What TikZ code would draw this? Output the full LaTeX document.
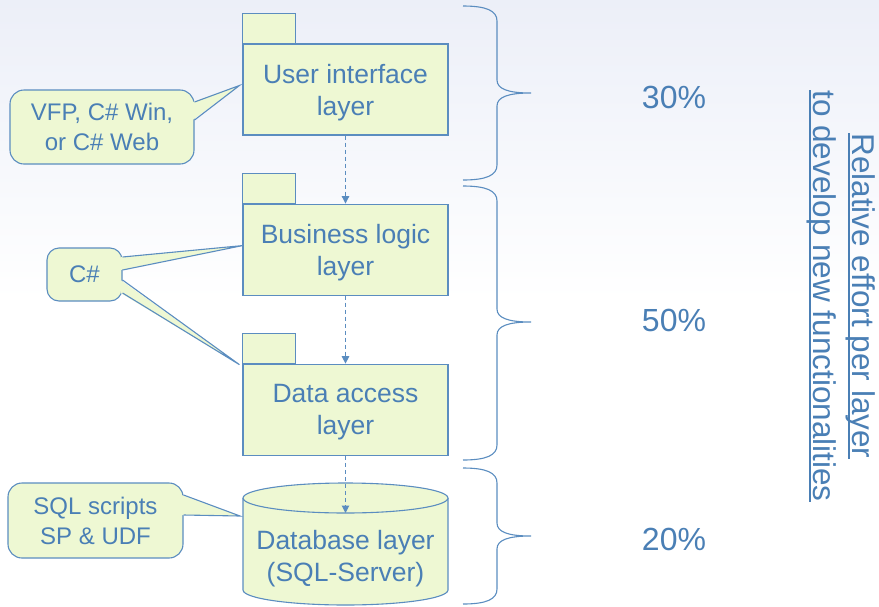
\documentclass[tikz,border=0pt]{standalone}
\usepackage{fontspec}
\setmainfont{Liberation Sans}
\usepackage{tikz}
\usetikzlibrary{calc, positioning, arrows.meta}
\definecolor{layerBlue}{HTML}{4A7FB5}
\definecolor{layerLine}{HTML}{5B8DC0}
\definecolor{layerFill}{HTML}{EEF8D3}
\definecolor{slideTop}{HTML}{ECEFF8}

\tikzset{
    pkg/.style={draw=layerLine, fill=layerFill, line width=1.1pt, minimum width=205pt,
        minimum height=91pt, inner sep=0pt, align=center, text=layerBlue, text depth=0pt,
        font=\fontsize{26.5}{32}\selectfont},
    pkgtab/.style={draw=layerLine, fill=layerFill, line width=1.1pt},
    note/.style={draw=layerLine, fill=layerFill, line width=1.1pt, rounded corners=14pt,
        inner sep=0pt, align=center, text=layerBlue, font=\fontsize{24}{30}\selectfont},
    dep/.style={draw=layerLine, line width=1pt, dash pattern=on 4pt off 3pt,
        -{Triangle[length=7.5pt,width=7.5pt]}},
    share/.style={text=layerBlue, font=\fontsize{32}{38}\selectfont},
}

% pointer of a note: note, offsets of the two base points, tip
\newcommand\notetip[4]{%
    \fill[layerFill] ($(#1.east)+(-2,#2)$) -- (#4) -- ($(#1.east)+(-2,#3)$) -- cycle;
    \draw[layerLine, line width=1.1pt] ($(#1.east)+(0,#2)$) -- (#4) -- ($(#1.east)+(0,#3)$);
}
% curly brace on the right: top, tip, bottom
\newcommand\effortbrace[3]{%
    \draw[layerLine, line width=1.1pt] (463,#1) .. controls (487,#1) and (497,#1+5) .. (497,#1+15)
        -- (497,#2-13) .. controls (497,#2-4) and (508,#2) .. (531,#2)
        .. controls (508,#2) and (497,#2+4) .. (497,#2+13)
        -- (497,#3-15) .. controls (497,#3-5) and (487,#3) .. (463,#3);
}
\newcommand\effortul[1]{\setbox0=\hbox{#1}\rlap{\rule[-4pt]{\wd0}{1.4pt}}\box0}

\begin{document}
\begin{tikzpicture}[x=1pt, y=-1pt]

    \useasboundingbox (0,0) rectangle (879,606);
    \fill[top color=slideTop, bottom color=white] (0,0) rectangle (879,300);

    % layers
    \node[pkg] (ui) at (345.5,89.5) {User interface\\layer};
    \node[pkg, below=68pt of ui] (bl) {Business logic\\layer};
    \node[pkg, below=68pt of bl] (da) {Data access\\layer};
    \foreach \p in {ui, bl, da}
        \draw[pkgtab] (\p.north west) rectangle ++(53,-30);

    \filldraw[pkgtab] (243,498) -- (243,590)
        arc[start angle=180, end angle=360, x radius=102.5pt, y radius=15pt] -- (448,498);
    \filldraw[pkgtab] (345.5,498) ellipse [x radius=102.5pt, y radius=15pt];
    \node[text=layerBlue, align=center, font=\fontsize{26.5}{32}\selectfont] (db) at (345.5,559)
        {Database layer\\(SQL-Server)};
    \coordinate (dbtop) at (345.5,513);

    \draw[dep] (ui.south) -- (bl.north);
    \draw[dep] (bl.south) -- (da.north);
    \draw[dep] (da.south) -- (dbtop);

    % notes
    \node[note, minimum width=184pt, minimum height=74pt] (vfp) at (102,127)
        {VFP, C\# Win,\\or C\# Web};
    \node[note, minimum width=75pt, minimum height=53pt, rounded corners=12pt] (csharp)
        at (84.5,274.5) {C\#};
    \node[note, minimum width=175pt, minimum height=75pt] (sql) at (95.5,520.5)
        {SQL scripts\\SP \& UDF};

    \coordinate (uitip) at ($(ui.west)+(-3,-4)$);
    \coordinate (bltip) at ($(bl.west)+(0,-4)$);
    \coordinate (datip) at ($(da.north west)+(-3,1)$);
    \coordinate (dbtip) at (240,516);
    \notetip{vfp}{-25}{-7}{uitip}
    \notetip{csharp}{-17.5}{-4.5}{bltip}
    \notetip{csharp}{5.5}{18.5}{datip}
    \notetip{sql}{-25.5}{-5.5}{dbtip}

    % effort per layer
    \effortbrace{6}{93}{180}
    \effortbrace{186}{322}{460}
    \effortbrace{468}{536}{604}
    \node[share] (p30) at (674,97) {30\%};
    \node[share] (p50) at (674,320) {50\%};
    \node[share] (p20) at (674,539) {20\%};

    \node[text=layerBlue, rotate=-90, align=center, font=\fontsize{31.5}{39}\selectfont] (effort)
        at (841,296) {\effortul{Relative effort per layer}\\\effortul{to develop new functionalities}};

\end{tikzpicture}
\end{document}
